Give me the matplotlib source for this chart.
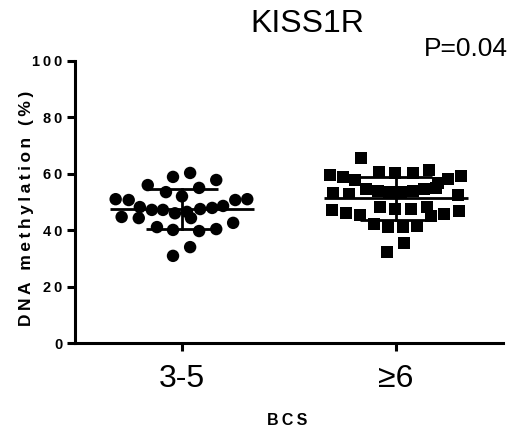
import numpy as np
import matplotlib
matplotlib.use("Agg")
import matplotlib.pyplot as plt

plt.rcParams['font.family'] = ['Liberation Sans', 'DejaVu Sans']

# Data
categories = ["3-5", "\u22656"]
title = "KISS1R"
p_text = "P=0.04"
x_label = "BCS"
y_label = "DNA methylation (%)"

g1_values = [58.9, 60.3, 57.8, 56.0, 53.5, 52.0, 55.0, 51.0, 50.7, 50.7, 51.0,
             48.2, 47.2, 47.2, 46.0, 46.5, 47.5, 47.9, 48.6, 44.7, 44.3, 44.3,
             42.6, 41.1, 40.1, 39.7, 40.4, 34.0, 30.9]
g1_offsets = [-0.042, 0.038, 0.160, -0.160, -0.075, 0.0, 0.080, -0.31, -0.249, 0.249, 0.305,
              -0.197, -0.141, -0.089, -0.033, 0.023, 0.085, 0.141, 0.192, -0.282, -0.202, 0.042,
              0.239, -0.117, -0.042, 0.080, 0.160, 0.038, -0.042]

g2_values = [65.6,
             59.6, 58.9, 60.6, 60.3, 60.3, 61.3, 58.2, 59.2,
             57.8, 56.7,
             53.2, 53.0, 54.5, 54.0, 53.5, 53.5, 54.0, 54.5, 55.0, 52.5,
             47.2, 46.2, 45.4, 48.2, 47.6, 47.6, 48.3, 45.0, 45.7, 46.9,
             42.2, 41.2, 41.2, 41.5,
             35.5, 32.3]
g2_offsets = [-0.164,
              -0.31, -0.249, -0.080, -0.005, 0.080, 0.155, 0.244, 0.305,
              -0.192, 0.197,
              -0.296, -0.221, -0.141, -0.085, -0.033, 0.023, 0.080, 0.131, 0.188, 0.291,
              -0.300, -0.235, -0.169, -0.075, -0.005, 0.070, 0.146, 0.164, 0.225, 0.296,
              -0.103, -0.038, 0.033, 0.099,
              0.038, -0.042]

yticks = [0, 20, 40, 60, 80, 100]


def spaced(s):
    # letter-spaced look of the original (thin spaces between letters)
    return "\u2009".join(s)


fig = plt.figure(figsize=(5.14, 4.36), dpi=100)
ax = fig.add_axes([75/514, (436-343)/436, 428/514, 282/436])

groups = [(g1_values, g1_offsets, 'o', 80), (g2_values, g2_offsets, 's', 72)]
for i, (vals, offs, mk, s) in enumerate(groups):
    vals = np.array(vals)
    xs = i + np.array(offs)
    ax.scatter(xs, vals, marker=mk, s=s, color='black', edgecolors='none', zorder=3, clip_on=False)
    m = vals.mean()
    sd = vals.std(ddof=1)
    ax.plot([i - 0.338, i + 0.338], [m, m], color='black', lw=2.0, zorder=4, solid_capstyle='butt')
    ax.plot([i - 0.17, i + 0.17], [m + sd, m + sd], color='black', lw=2.0, zorder=4, solid_capstyle='butt')
    ax.plot([i - 0.17, i + 0.17], [m - sd, m - sd], color='black', lw=2.0, zorder=4, solid_capstyle='butt')
    ax.plot([i, i], [m - sd, m + sd], color='black', lw=2.0, zorder=4)

ax.set_xlim(-0.5, 1.5)
ax.set_ylim(0, 100)
ax.set_xticks([0, 1])
ax.set_xticklabels(categories, fontsize=23)
ax.set_yticks(yticks)
ax.set_yticklabels([spaced(str(t)) for t in yticks], fontsize=10.5, fontweight='bold')
for sp in ['top', 'right']:
    ax.spines[sp].set_visible(False)
for sp in ['left', 'bottom']:
    ax.spines[sp].set_linewidth(2.2)
ax.tick_params(axis='both', width=2.2, length=6, direction='out')
ax.tick_params(axis='x', pad=9)
ax.tick_params(axis='y', pad=3)

ax.set_xlabel(spaced(x_label), fontsize=11.5, fontweight='bold')
ax.xaxis.set_label_coords((287 - 75) / 428, -(413 - 343) / 282)
ax.set_ylabel(spaced(y_label), fontsize=12.5, fontweight='bold')
ax.yaxis.set_label_coords(-(75 - 34) / 428, (343 - 208) / 282)

fig.text(307/514, 1 - 24/436, title, fontsize=23, ha='center', va='center')
fig.text(508/514, 1 - 49/436, p_text, fontsize=19, ha='right', va='center')

fig.savefig("out.png", dpi=100)
